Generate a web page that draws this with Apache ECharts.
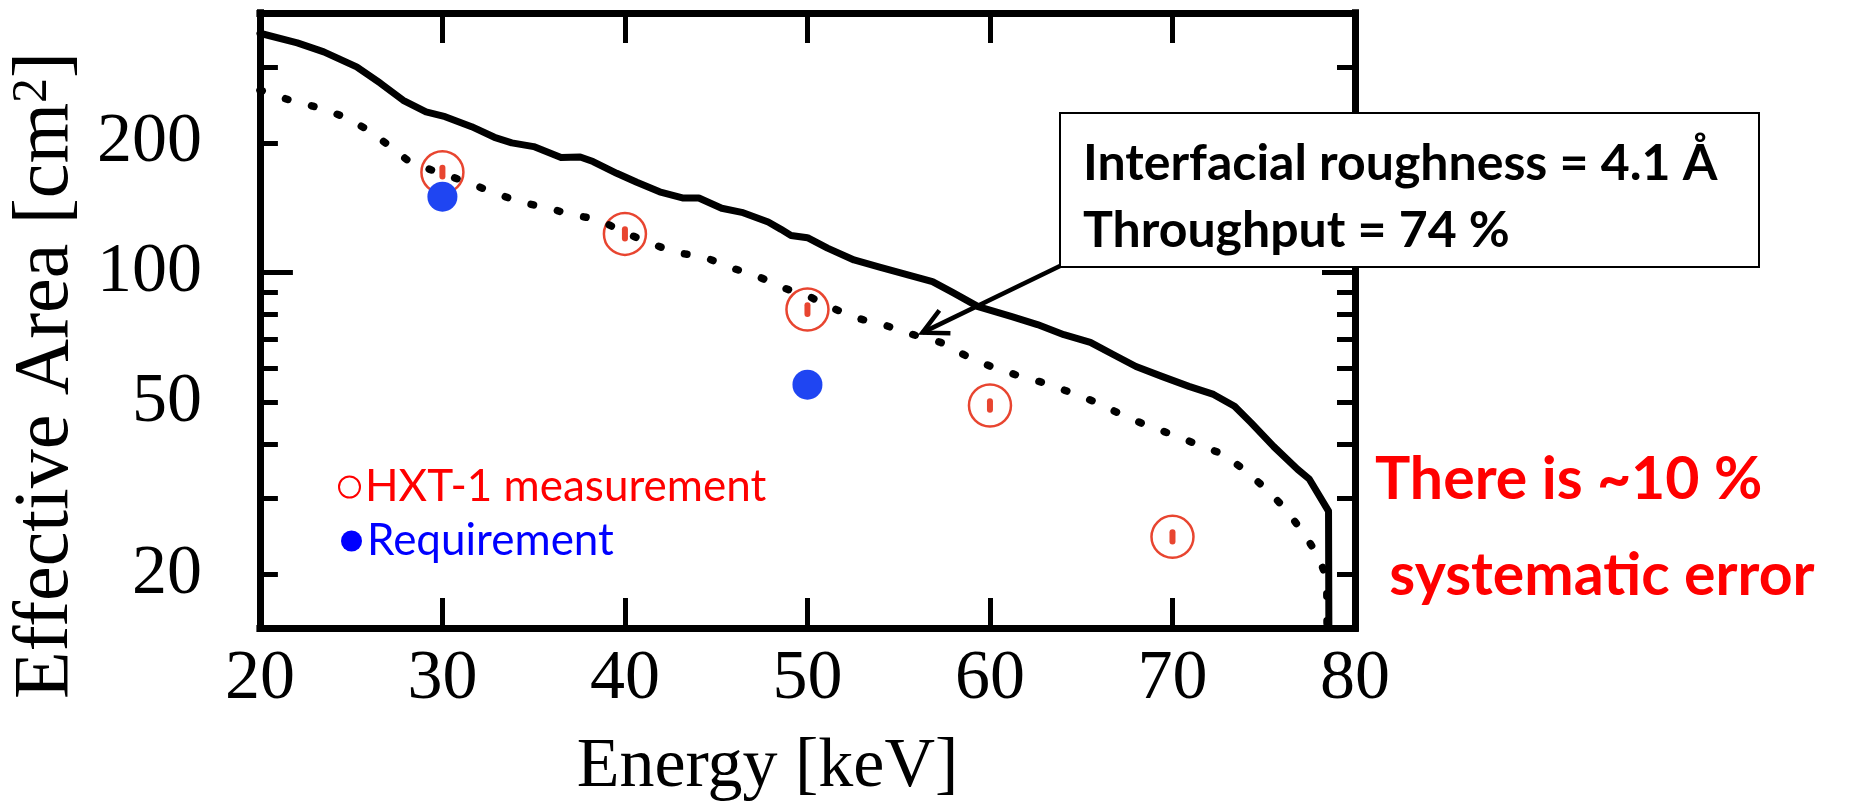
<!DOCTYPE html>
<html>
<head>
<meta charset="utf-8">
<script src="https://cdn.jsdelivr.net/npm/echarts@6/dist/echarts.min.js"></script>
<style>
  html, body { margin: 0; padding: 0; background: #fff; }
  #chart { width: 1861px; height: 808px; }
</style>
</head>
<body>
<div id="chart"></div>
<script>
// Solid curve: effective area model (keV, cm^2)
const solidEnergy = [20.0, 22.05, 23.5, 25.3, 26.6, 27.85, 29.1, 30.15, 31.6, 32.85, 33.8, 35.0, 36.5, 37.55, 38.25,
  39.55, 40.65, 41.9, 43.15, 44.05, 45.3, 46.4, 47.85, 48.55, 49.1, 50.0, 51.1, 52.55, 53.95, 55.8, 56.85, 57.95,
  59.35, 61.2, 62.6, 64.05, 65.5, 66.75, 68.0, 69.45, 70.9, 72.25, 73.4, 74.3, 75.55, 76.85, 77.5, 78.55, 78.6];
const solidArea = [359, 341, 325, 300, 275, 251, 236, 230, 218, 206, 200, 196, 185, 185.5, 181,
  170, 162, 154, 149, 149, 141, 138, 131, 126, 122, 120.5, 114, 107, 103, 98, 95.3, 90,
  83.4, 79.1, 75.8, 71.8, 68.9, 64.6, 60.6, 57.4, 54.5, 52.2, 49.0, 44.9, 39.5, 35.0, 33.2, 28.0, 5];

// Dotted curve: roughness 4.1 A, throughput 74 %
const dottedEnergy = [20.0, 21.6, 23.1, 24.6, 25.95, 27.15, 28.25, 29.85, 31.3, 32.7, 34.2, 35.7, 37.15, 38.55,
  40.0, 41.45, 42.85, 44.3, 45.8, 47.2, 48.65, 50.1, 51.45, 52.85, 54.3, 55.8, 57.3, 58.65, 60.05, 61.5, 62.9,
  64.4, 65.85, 67.2, 68.55, 69.95, 71.35, 72.8, 74.05, 75.2, 76.2, 77.15, 78.0, 78.45, 78.55];
const dottedArea = [265, 251.5, 242, 230, 214, 196, 180, 170.4, 162.4, 154, 146, 141.4, 136.2, 132.7,
  123.8, 116.7, 111.2, 108.9, 102.7, 98.4, 92.3, 88.0, 82.5, 78.2, 75.4, 71.8, 68.9, 64.3, 60.6, 57.8, 55.6,
  52.8, 50.0, 46.9, 44.3, 42.2, 40.0, 37.9, 34.6, 31.3, 28.3, 25.0, 22.0, 19.5, 5];

// HXT-1 measurements with error range
const measEnergy = [30, 40, 50, 60, 70];
const measArea = [171, 123, 82.1, 49.2, 24.4];
const measLow = [167, 120, 80.2, 48.1, 23.8];
const measHigh = [175, 126, 84.0, 50.3, 25.0];

// Requirement
const reqEnergy = [30, 50];
const reqArea = [150, 55];

// Axis ticks
const yLabelValues = [20, 50, 100, 200];
const yMajorTicks = [100];
const yMinorTicks = [20, 30, 40, 50, 60, 70, 80, 90, 200, 300];

// Point the annotation arrow at the dotted curve
const arrowTarget = [56.3, 72.6];

const pairs = (xs, ys) => xs.map((x, i) => [x, ys[i]]);
const serif = "'Liberation Serif', 'Times New Roman', serif";
const sans = "Lato, 'Open Sans', sans-serif";
const frameLine = { show: true, lineStyle: { color: '#000', width: 7, cap: 'square' } };

function xAxisDef(position, withLabels) {
  const ax = {
    type: 'value', min: 20, max: 80, interval: 10, position: position,
    axisLine: frameLine,
    axisTick: { show: true, inside: true, length: 30, lineStyle: { color: '#000', width: 5 } },
    axisLabel: { show: withLabels, margin: 17, fontFamily: serif, fontSize: 70, color: '#000' },
    splitLine: { show: false }
  };
  if (withLabels) {
    ax.name = 'Energy [keV]';
    ax.nameLocation = 'middle';
    ax.nameGap = 105;
    ax.nameTextStyle = { fontFamily: serif, fontSize: 70, color: '#000', padding: [0, 80, 0, 0] };
  }
  return ax;
}

function yAxisDef(position, ticks, len, withLabels) {
  const ax = {
    type: 'log', logBase: 10, min: 15, max: 400, position: position,
    axisLine: frameLine,
    axisTick: { show: true, inside: true, length: len, customValues: ticks, lineStyle: { color: '#000', width: 5 } },
    axisLabel: { show: withLabels, customValues: yLabelValues, margin: 58, fontFamily: serif, fontSize: 70, color: '#000' },
    splitLine: { show: false },
    minorTick: { show: false }
  };
  if (withLabels) {
    ax.name = 'Effective Area [cm{sup|2}]';
    ax.nameLocation = 'middle';
    ax.nameRotate = 90;
    ax.nameGap = 152;
    ax.nameTextStyle = {
      fontFamily: serif, fontSize: 78, color: '#000', padding: [0, 110, 0, 0],
      rich: { sup: { fontFamily: serif, fontSize: 50, color: '#000', verticalAlign: 'top' } }
    };
  }
  return ax;
}

const chart = echarts.init(document.getElementById('chart'));

const option = {
  backgroundColor: '#fff',
  animation: false,
  grid: { left: 245, right: 506, top: 13, bottom: 176 },
  xAxis: [xAxisDef('bottom', true), xAxisDef('top', false)],
  yAxis: [
    yAxisDef('left', yMajorTicks, 33, true),
    yAxisDef('left', yMinorTicks, 18, false),
    yAxisDef('right', yMajorTicks, 33, false),
    yAxisDef('right', yMinorTicks, 18, false)
  ],
  legend: [
    {
      data: [{ name: 'HXT-1 measurement', icon: 'circle',
               itemStyle: { color: 'rgba(255,255,255,0)', borderColor: '#ff0000', borderWidth: 2 } }],
      left: 333, top: 460, itemWidth: 21, itemHeight: 21, selectedMode: false,
      textStyle: { color: '#ff0000', fontFamily: sans, fontSize: 44 }
    },
    {
      data: [{ name: 'Requirement', icon: 'circle', itemStyle: { color: '#0000ff', opacity: 1 } }],
      left: 336, top: 514, itemWidth: 21, itemHeight: 21, selectedMode: false,
      textStyle: { color: '#0000ff', fontFamily: sans, fontSize: 44 }
    }
  ],
  series: [
    {
      name: 'Model', type: 'line', z: 4, showSymbol: false, symbol: 'none',
      data: pairs(solidEnergy, solidArea),
      lineStyle: { color: '#000', width: 7, join: 'round', cap: 'round' }
    },
    {
      name: 'Roughness 4.1 Å', type: 'line', z: 5, showSymbol: false, symbol: 'none',
      data: pairs(dottedEnergy, dottedArea),
      lineStyle: { color: '#000', width: 7.5, type: [2.5, 24.5], cap: 'round' }
    },
    {
      name: 'HXT-1 measurement', type: 'scatter', z: 2, symbol: 'circle', symbolSize: 42,
      data: pairs(measEnergy, measArea),
      itemStyle: { color: 'rgba(255,255,255,0)', borderColor: '#e84530', borderWidth: 2.5, opacity: 1 }
    },
    {
      name: 'HXT-1 error', type: 'custom', z: 2,
      data: measEnergy.map((e, i) => [e, measLow[i], measHigh[i]]),
      encode: { x: 0, y: [1, 2] },
      renderItem: function (params, api) {
        const lo = api.coord([api.value(0), api.value(1)]);
        const hi = api.coord([api.value(0), api.value(2)]);
        return {
          type: 'line',
          shape: { x1: lo[0], y1: lo[1], x2: hi[0], y2: hi[1] },
          style: { stroke: '#e84530', lineWidth: 6, lineCap: 'round' }
        };
      }
    },
    {
      name: 'Requirement', type: 'scatter', z: 3, symbol: 'circle', symbolSize: 30,
      data: pairs(reqEnergy, reqArea),
      itemStyle: { color: '#1f45f2', opacity: 1 }
    }
  ]
};

chart.setOption(option);

// Annotation box, arrow and side note
const tip = chart.convertToPixel({ xAxisIndex: 0, yAxisIndex: 0 }, arrowTarget);
const start = [1060, 266];
const ang = Math.atan2(start[1] - tip[1], start[0] - tip[0]);
const headLen = 28, spread = 27 * Math.PI / 180;
const h1 = [tip[0] + headLen * Math.cos(ang + spread), tip[1] + headLen * Math.sin(ang + spread)];
const h2 = [tip[0] + headLen * Math.cos(ang - spread), tip[1] + headLen * Math.sin(ang - spread)];

chart.setOption({
  graphic: [
    { type: 'line', z: 99, shape: { x1: start[0], y1: start[1], x2: tip[0], y2: tip[1] },
      style: { stroke: '#000', lineWidth: 4.5 } },
    { type: 'polyline', z: 99, shape: { points: [h1, tip, h2] },
      style: { stroke: '#000', lineWidth: 4.5, fill: null, lineJoin: 'miter' } },
    { type: 'rect', z: 100, shape: { x: 1060, y: 113, width: 699, height: 154 },
      style: { fill: '#fff', stroke: '#000', lineWidth: 2 } },
    { type: 'text', z: 101, x: 1083, y: 164,
      style: { text: 'Interfacial roughness = 4.1 Å', fontFamily: sans, fontWeight: 'bold', fontSize: 50,
               fill: '#000', align: 'left', verticalAlign: 'middle' } },
    { type: 'text', z: 101, x: 1083, y: 231,
      style: { text: 'Throughput = 74 %', fontFamily: sans, fontWeight: 'bold', fontSize: 50,
               fill: '#000', align: 'left', verticalAlign: 'middle' } },
    { type: 'text', z: 101, x: 1375, y: 480,
      style: { text: 'There is ~10 %', fontFamily: sans, fontWeight: 'bold', fontSize: 59,
               fill: '#ff0000', align: 'left', verticalAlign: 'middle' } },
    { type: 'text', z: 101, x: 1375, y: 576,
      style: { text: ' systematic error', fontFamily: sans, fontWeight: 'bold', fontSize: 59,
               fill: '#ff0000', align: 'left', verticalAlign: 'middle' } }
  ]
});
</script>
</body>
</html>
